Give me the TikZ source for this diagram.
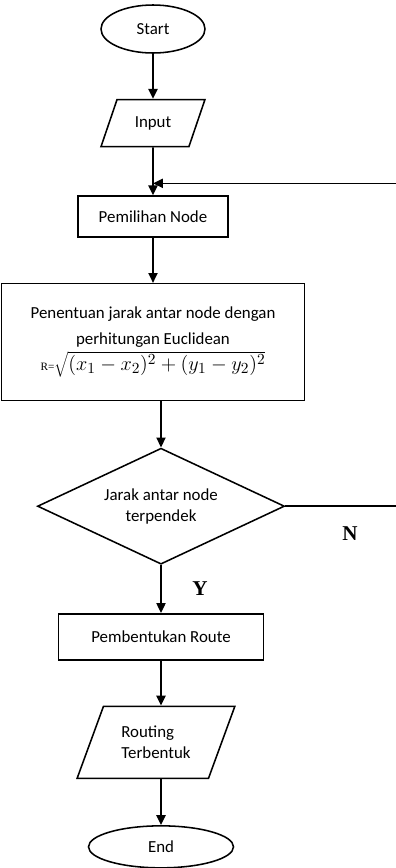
\documentclass[tikz,border=0pt]{standalone}
\usepackage{fontspec}
\setmainfont{Carlito}
\newfontfamily\yesno{Liberation Serif}
\usetikzlibrary{arrows.meta, positioning, shapes.geometric}

\begin{document}
\begin{tikzpicture}[
  >={Triangle[length=7pt,width=6.5pt]}, line width=1.1pt,
  font=\fontsize{12}{15}\selectfont,
  node distance=1.125cm,
  term/.style={draw, ellipse, minimum width=2.6cm, minimum height=1.2cm, inner sep=1pt},
  io/.style={draw, trapezium, trapezium left angle=66, trapezium right angle=114, trapezium stretches=true, minimum width=2.6cm, minimum height=1.175cm, align=left},
  proc/.style={draw, rectangle, minimum height=1.025cm, align=center},
  cond/.style={draw, diamond, aspect=2.1, minimum width=6.175cm, minimum height=2.9cm, inner sep=0pt, align=center},
  yn/.style={font=\yesno\fontsize{15}{15}\selectfont\bfseries}
]
  \useasboundingbox (0,0) rectangle (9.9,-21.7);

  \node[term] (start) at (3.825,-0.725) {Start};
  \node[io, below=of start] (input) {Input};
  \node[proc, minimum width=3.75cm, below=1.2cm of input] (pilih) {Pemilihan Node};
  \node[proc, minimum width=7.575cm, minimum height=2.925cm, below=of pilih] (jarak)
    {Penentuan jarak antar node dengan\\[3pt] perhitungan Euclidean\\[2pt]
     {\yesno\fontsize{8}{8}\selectfont R=}{\fontsize{15}{15}\selectfont$\sqrt{(x_1-x_2)^2+(y_1-y_2)^2}$}};
  \node[cond, below=1.15cm of jarak, xshift=0.2cm] (cek) {Jarak antar node\\terpendek};
  \node[proc, minimum width=5.125cm, minimum height=1.15cm, below=1.2cm of cek] (bentuk) {Pembentukan Route};
  \node[io, minimum width=3.95cm, minimum height=1.8cm, trapezium left angle=65, trapezium right angle=115, below=of bentuk, xshift=-0.125cm] (hasil) {Routing\\Terbentuk};
  \node[term, minimum width=3.625cm, minimum height=1.05cm, below=1.15cm of hasil, xshift=0.125cm] (end) {End};

  \coordinate[below=0.9cm of input.south] (join);
  \coordinate[right=3cm of cek.east] (loop);

  \draw[->] (start) -- (input);
  \draw[->] (input) -- (pilih);
  \draw[->] (pilih) -- (jarak);
  \draw[->] (jarak.south -| cek.north) -- (cek);
  \draw[->] (cek) -- node[yn, xshift=0.975cm] {Y} (bentuk);
  \draw[->] (bentuk.south) -- (bentuk.south |- hasil.north);
  \draw[->] (hasil.south -| end.north) -- (end);

  % jalur N kembali ke pemilihan node
  \draw[->] (cek.east) -- node[yn, pos=0.54, yshift=-0.675cm] {N} (loop) |- (join);

\end{tikzpicture}
\end{document}
